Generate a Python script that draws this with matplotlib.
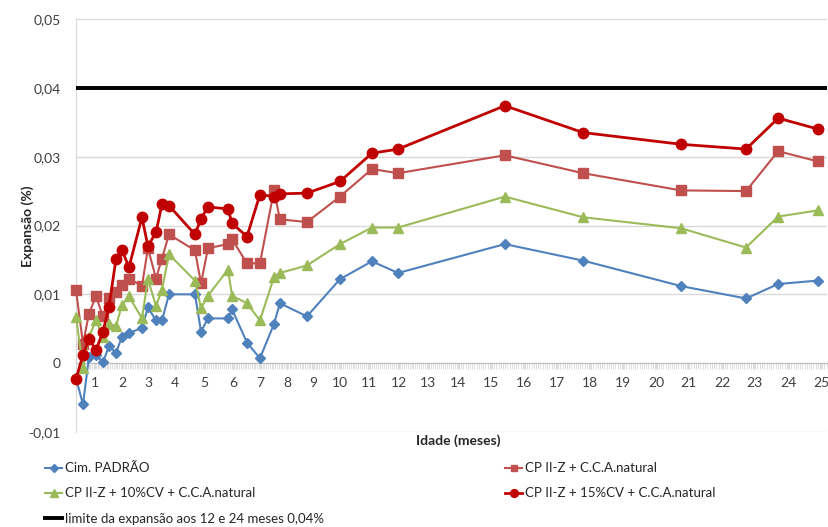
import matplotlib
matplotlib.use("Agg")
import matplotlib.pyplot as plt
import numpy as np
from matplotlib.ticker import FixedLocator, FuncFormatter

plt.rcParams['font.family'] = ['Lato', 'DejaVu Sans']

# Idade dos ensaios (meses)
idade = [0.30, 0.56, 0.78, 1.04, 1.30, 1.52, 1.78, 2.00, 2.27, 2.77, 3.00,
         3.30, 3.52, 3.78, 4.69, 4.90, 5.14, 5.83, 5.97, 6.52, 7.00, 7.52,
         7.74, 8.77, 10.00, 11.10, 11.97, 15.42, 17.79, 20.78, 22.75, 23.71,
         24.91]

# Expansão (%)
cim_padrao = [-0.0022, -0.0060, 0.0009, 0.0012, 0.0001, 0.0025, 0.0015,
              0.0038, 0.0044, 0.0051, 0.0081, 0.0062, 0.0062, 0.0100, 0.0100,
              0.0046, 0.0065, 0.0065, 0.0078, 0.0030, 0.0007, 0.0057, 0.0087,
              0.0068, 0.0122, 0.0148, 0.0131, 0.0173, 0.0149, 0.0112, 0.0094,
              0.0115, 0.0120]
cp_cca = [0.0106, 0.0028, 0.0072, 0.0097, 0.0068, 0.0094, 0.0104, 0.0113,
          0.0123, 0.0112, 0.0167, 0.0123, 0.0152, 0.0187, 0.0164, 0.0116,
          0.0167, 0.0173, 0.0180, 0.0145, 0.0145, 0.0251, 0.0209, 0.0205,
          0.0242, 0.0282, 0.0276, 0.0302, 0.0276, 0.0251, 0.0250, 0.0308,
          0.0293]
cp_10cv = [0.0067, -0.0007, 0.0038, 0.0062, 0.0038, 0.0057, 0.0054, 0.0084,
           0.0097, 0.0065, 0.0122, 0.0083, 0.0107, 0.0158, 0.0120, 0.0080,
           0.0098, 0.0136, 0.0098, 0.0087, 0.0062, 0.0125, 0.0131, 0.0142,
           0.0173, 0.0197, 0.0197, 0.0242, 0.0212, 0.0196, 0.0168, 0.0213,
           0.0222]
cp_15cv = [-0.0023, 0.0012, 0.0035, 0.0019, 0.0046, 0.0082, 0.0151, 0.0165,
           0.0139, 0.0212, 0.0170, 0.0190, 0.0231, 0.0229, 0.0187, 0.0210,
           0.0227, 0.0224, 0.0203, 0.0184, 0.0245, 0.0242, 0.0246, 0.0247,
           0.0264, 0.0305, 0.0311, 0.0374, 0.0335, 0.0318, 0.0311, 0.0356,
           0.0340]
limite = 0.04

meses_rotulos = list(range(1, 26))

# escala do eixo x: os meses não ficam igualmente espaçados
knots_mes = np.arange(-1, 27)
knots_pos = np.array([41, 68, 95, 122, 148, 175, 204, 233, 260, 287, 313,
                      340, 369, 399, 428, 458, 491, 524, 557, 590, 623, 656,
                      688, 722, 754, 788, 821, 854], dtype=float)


def fwd(x):
    return np.interp(x, knots_mes, knots_pos)


def inv(p):
    return np.interp(p, knots_pos, knots_mes)


fig = plt.figure(figsize=(8.29, 5.27), dpi=100)
ax = fig.add_axes([76 / 829, 1 - 432 / 527, 751 / 829, 413 / 527])
ax.set_xscale('function', functions=(fwd, inv))

ax.plot(idade, cim_padrao, color='#4F81BD', lw=1.5, marker='D', ms=5.5,
        label='Cim. PADRÃO', zorder=3, clip_on=False)
ax.plot(idade, cp_cca, color='#C0504D', lw=1.5, marker='s', ms=6.5,
        label='CP II-Z + C.C.A.natural', zorder=3, clip_on=False)
ax.plot(idade, cp_10cv, color='#9BBB59', lw=1.5, marker='^', ms=7,
        label='CP II-Z + 10%CV + C.C.A.natural', zorder=3, clip_on=False)
ax.plot(idade, cp_15cv, color='#C00000', lw=2, marker='o', ms=7.5,
        label='CP II-Z + 15%CV + C.C.A.natural', zorder=3, clip_on=False)
ax.axhline(limite, color='black', lw=2.8, zorder=4,
           label='limite da expansão aos 12 e 24 meses 0,04%')

ax.set_xlim(0.30, 25.18)
ax.set_ylim(-0.01, 0.05)
ax.set_yticks(np.arange(-0.01, 0.0501, 0.01))
ax.yaxis.set_major_formatter(FuncFormatter(
    lambda v, p: '0' if abs(v) < 1e-9 else f'{v:.2f}'.replace('.', ',')))
ax.grid(axis='y', color='#D9D9D9', lw=1)
ax.set_axisbelow(True)

for s in ['top', 'right']:
    ax.spines[s].set_visible(False)
ax.spines['left'].set_color('#D9D9D9')
ax.spines['bottom'].set_position(('data', 0))
ax.spines['bottom'].set_color('#BFBFBF')

ax.xaxis.set_major_locator(FixedLocator(meses_rotulos))
ax.xaxis.set_minor_locator(FixedLocator(np.arange(0.3, 25.2, 1 / 15)))
ax.tick_params(axis='x', which='both', length=4, color='#D9D9D9',
               direction='out', pad=6, labelsize=10, labelcolor='#404040')
ax.tick_params(axis='y', length=0, pad=11, labelsize=10,
               labelcolor='#404040')

fig.text(458 / 829, 1 - 441 / 527, 'Idade (meses)', ha='center',
         va='center', fontsize=10, fontweight='bold', color='#262626')
fig.text(28 / 829, 1 - 226 / 527, 'Expansão (%)', ha='center',
         va='center', rotation=90, fontsize=10, fontweight='bold',
         color='#262626')

h, l = ax.get_legend_handles_labels()
leg_kw = dict(frameon=False, fontsize=9.5, handlelength=1.3,
              handletextpad=0.2, labelspacing=1.0, borderaxespad=0,
              markerscale=0.75)
leg1 = fig.legend([h[0], h[2], h[4]], [l[0], l[2], l[4]], loc='upper left',
                  bbox_to_anchor=(40 / 829, 1 - 457 / 527), **leg_kw)
for t in leg1.get_texts():
    t.set_color('#262626')
leg2 = fig.legend([h[1], h[3]], [l[1], l[3]], loc='upper left',
                  bbox_to_anchor=(500 / 829, 1 - 457 / 527), **leg_kw)
for t in leg2.get_texts():
    t.set_color('#262626')

fig.savefig('out.png', dpi=100)
